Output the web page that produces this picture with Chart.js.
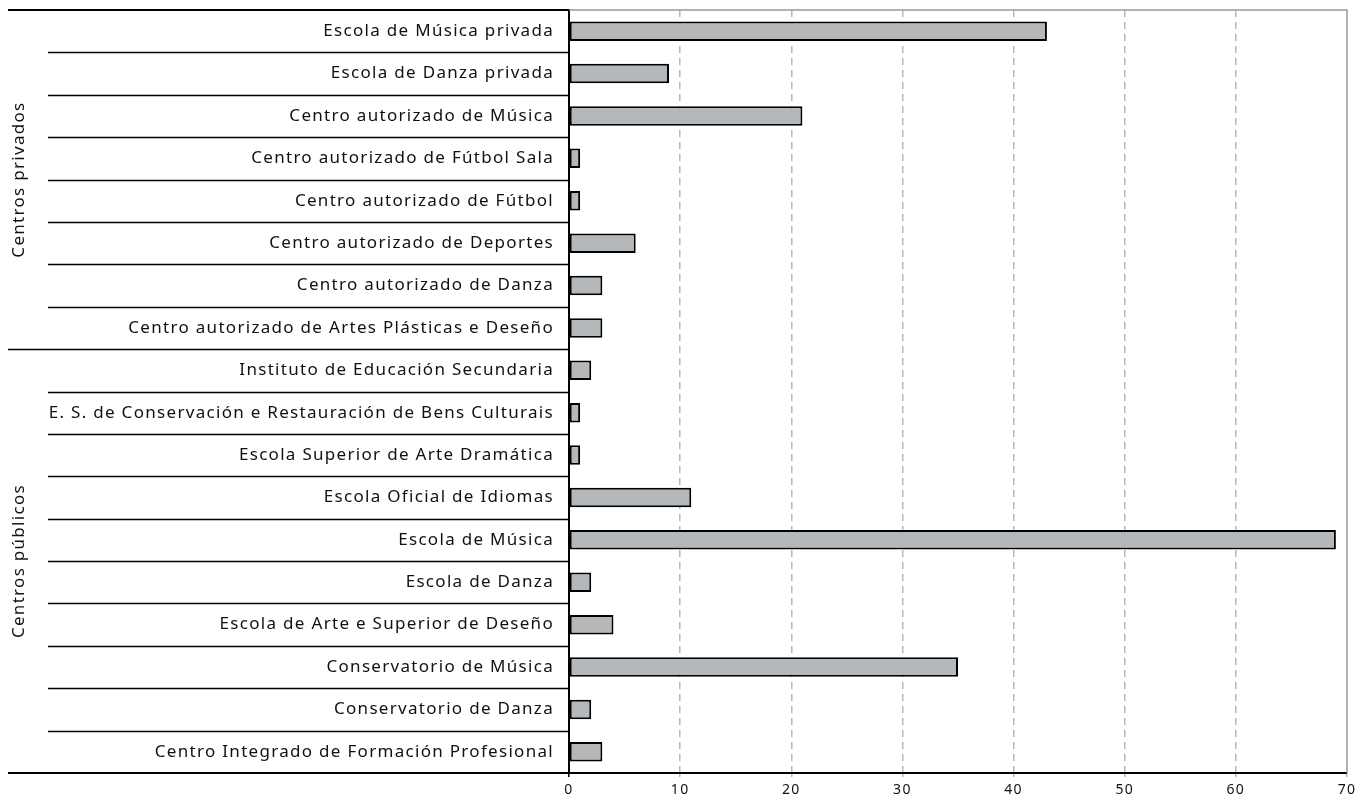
<!DOCTYPE html>
<html>
<head>
<meta charset="utf-8">
<script src="https://cdn.jsdelivr.net/npm/chart.js@4"></script>
<style>
  html, body { margin: 0; padding: 0; background: #fff; }
  #wrap { width: 1366px; height: 794px; }
</style>
</head>
<body>
<div id="wrap"><canvas id="myChart" width="1366" height="794"></canvas></div>
<script>
var categorias = [
    'Escola de Música privada',
    'Escola de Danza privada',
    'Centro autorizado de Música',
    'Centro autorizado de Fútbol Sala',
    'Centro autorizado de Fútbol',
    'Centro autorizado de Deportes',
    'Centro autorizado de Danza',
    'Centro autorizado de Artes Plásticas e Deseño',
    'Instituto de Educación Secundaria',
    'E. S. de Conservación e Restauración de Bens Culturais',
    'Escola Superior de Arte Dramática',
    'Escola Oficial de Idiomas',
    'Escola de Música',
    'Escola de Danza',
    'Escola de Arte e Superior de Deseño',
    'Conservatorio de Música',
    'Conservatorio de Danza',
    'Centro Integrado de Formación Profesional'
];
var valores = [43, 9, 21, 1, 1, 6, 3, 3, 2, 1, 1, 11, 69, 2, 4, 35, 2, 3];

// grupos: nome, primeiro e último índice
var grupos = ['Centros privados', 'Centros públicos'];
var gruposInicio = [0, 8];
var gruposFin = [7, 17];

var ticksX = [0, 10, 20, 30, 40, 50, 60, 70];

var fonte = '"Noto Sans", sans-serif';
var espaciado = '1.3px';

// liñas da táboa á esquerda e etiquetas dos grupos
var taboaPlugin = {
    id: 'taboa',
    beforeUpdate: function(chart) {
        chart.ctx.letterSpacing = espaciado;
    },
    beforeDraw: function(chart) {
        chart.ctx.letterSpacing = espaciado;
    },
    afterDraw: function(chart) {
        var c = chart.ctx;
        var y = chart.scales.y;
        var a = chart.chartArea;
        var paso = (y.getPixelForValue(1) - y.getPixelForValue(0));
        c.save();
        c.strokeStyle = '#000';
        c.lineWidth = 1.5;
        for (var i = 1; i < categorias.length; i++) {
            var py = Math.round(y.getPixelForValue(i) - paso / 2) + 0.5;
            var x0 = gruposInicio.indexOf(i) >= 0 ? 8 : 48;
            c.beginPath();
            c.moveTo(x0, py);
            c.lineTo(a.left, py);
            c.stroke();
        }
        c.lineWidth = 2;
        c.beginPath();
        c.moveTo(8, a.top);
        c.lineTo(a.left, a.top);
        c.stroke();
        c.beginPath();
        c.moveTo(8, a.bottom);
        c.lineTo(a.right, a.bottom);
        c.stroke();
        // bordo gris arriba e á dereita
        c.strokeStyle = '#999';
        c.lineWidth = 1.5;
        c.beginPath();
        c.moveTo(a.left, a.top);
        c.lineTo(a.right, a.top);
        c.lineTo(a.right, a.bottom);
        c.stroke();

        c.fillStyle = '#111';
        c.font = '17px ' + fonte;
        c.textAlign = 'center';
        c.textBaseline = 'middle';
        for (var g = 0; g < grupos.length; g++) {
            var t = y.getPixelForValue(gruposInicio[g]) - paso / 2;
            var b = y.getPixelForValue(gruposFin[g]) + paso / 2;
            c.save();
            c.translate(19, (t + b) / 2);
            c.rotate(-Math.PI / 2);
            c.fillText(grupos[g], 0, 0);
            c.restore();
        }
        c.restore();
    }
};

var ctx = document.getElementById('myChart');

var graphique = new Chart(ctx.getContext('2d'), {
    type: 'bar',
    data: {
        labels: categorias,
        datasets: [{
            data: valores,
            backgroundColor: '#b5b8bb',
            borderColor: '#000',
            borderWidth: 2,
            borderSkipped: false,
            barPercentage: 0.46,
            categoryPercentage: 1
        }]
    },
    options: {
        indexAxis: 'y',
        responsive: false,
        animation: false,
        layout: { padding: { top: 10, right: 19, left: 0, bottom: 0 } },
        plugins: {
            legend: { display: false },
            tooltip: { enabled: false }
        },
        scales: {
            x: {
                min: 0,
                max: 70,
                afterBuildTicks: function(s) {
                    s.ticks = ticksX.map(function(v) { return { value: v }; });
                },
                afterFit: function(s) {
                    s.height = 21;
                    s.paddingLeft = 0;
                    s.paddingRight = 0;
                },
                border: { display: false, dash: [7, 5] },
                grid: {
                    color: function(c) {
                        var v = c.tick ? c.tick.value : 0;
                        return (v === 0 || v === 70) ? 'rgba(0,0,0,0)' : '#b8b8b8';
                    },
                    lineWidth: 1.5,
                    tickBorderDash: [],
                    tickColor: function(c) {
                        var v = c.tick ? c.tick.value : 0;
                        return v === 0 ? '#000' : '#b8b8b8';
                    },
                    tickLength: 4
                },
                ticks: {
                    color: '#111',
                    padding: 5,
                    font: { family: fonte, size: 14 },
                    maxRotation: 0
                }
            },
            y: {
                afterFit: function(s) {
                    s.width = 569;
                    s.paddingTop = 0;
                    s.paddingBottom = 0;
                },
                border: { display: true, color: '#000', width: 2 },
                grid: { display: false },
                ticks: {
                    color: '#111',
                    padding: 7,
                    autoSkip: false,
                    font: { family: fonte, size: 17 }
                }
            }
        }
    },
    plugins: [taboaPlugin]
});
</script>
</body>
</html>
